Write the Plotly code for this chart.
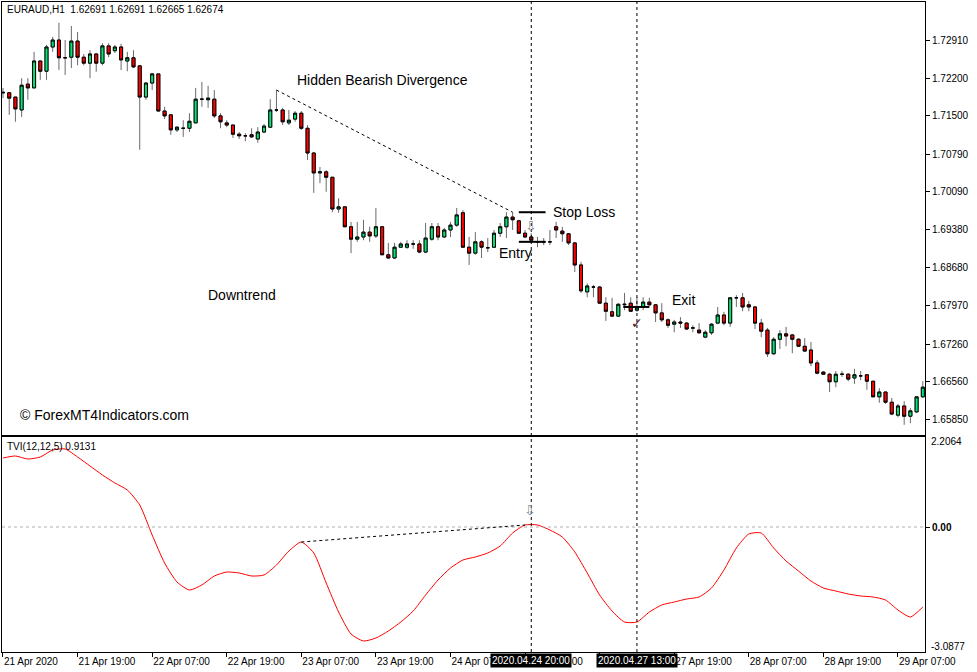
import plotly.graph_objects as go

# ---------------- data ----------------
opens = [1.7194,1.7193,1.7185,1.7161,1.7209,1.7202,1.7252,1.7233,1.7278,1.7291,
1.7258,1.7259,1.7289,1.7259,1.7248,1.7265,1.7248,1.7280,1.7271,1.7278,
1.7252,1.7258,1.7243,1.7185,1.7211,1.7228,1.7159,1.7152,1.7124,1.7127,
1.7127,1.7137,1.7181,1.7180,1.7181,1.7150,1.7137,1.7133,1.7116,1.7113,
1.7115,1.7107,1.7120,1.7129,1.7161,1.7161,1.7137,1.7144,1.7155,1.7127,
1.7081,1.7044,1.7046,1.7036,1.6977,1.6981,1.6944,1.6921,1.6925,1.6934,
1.6927,1.6944,1.6892,1.6886,1.6906,1.6906,1.6912,1.6912,1.6897,1.6921,
1.6944,1.6925,1.6938,1.6947,1.6970,1.6906,1.6895,1.6916,1.6905,1.6906,
1.6932,1.6944,1.6962,1.6955,1.6932,1.6925,1.6916,1.6916,1.6916,1.6944,
1.6936,1.6931,1.6914,1.6873,1.6823,1.6832,1.6832,1.6802,1.6786,1.6778,
1.6799,1.6802,1.6789,1.6795,1.6804,1.6799,1.6784,1.6771,1.6763,1.6767,
1.6765,1.6756,1.6752,1.6739,1.6747,1.6765,1.6780,1.6765,1.6812,1.6812,
1.6799,1.6795,1.6765,1.6752,1.6708,1.6735,1.6745,1.6743,1.6735,1.6722,
1.6715,1.6691,1.6674,1.6670,1.6656,1.6670,1.6670,1.6663,1.6667,1.6669,
1.6657,1.6628,1.6637,1.6618,1.6594,1.6611,1.6592,1.6600,1.6628]

highs = [1.7202,1.7194,1.7185,1.7220,1.7220,1.7269,1.7252,1.7282,1.7297,1.7323,
1.7291,1.7317,1.7306,1.7265,1.7272,1.7267,1.7285,1.7285,1.7282,1.7284,
1.7269,1.7272,1.7243,1.7213,1.7230,1.7228,1.7167,1.7152,1.7131,1.7142,
1.7155,1.7202,1.7213,1.7206,1.7198,1.7155,1.7142,1.7133,1.7120,1.7118,
1.7127,1.7129,1.7135,1.7181,1.7198,1.7165,1.7161,1.7159,1.7159,1.7133,
1.7083,1.7055,1.7049,1.7036,1.6997,1.6981,1.6953,1.6953,1.6957,1.6944,
1.6979,1.6944,1.6914,1.6914,1.6916,1.6919,1.6919,1.6919,1.6951,1.6951,
1.6951,1.6942,1.6953,1.6979,1.6975,1.6925,1.6934,1.6919,1.6923,1.6938,
1.6951,1.6971,1.6971,1.6957,1.6938,1.6932,1.6925,1.6923,1.6938,1.6953,
1.6944,1.6932,1.6916,1.6879,1.6839,1.6836,1.6834,1.6813,1.6812,1.6802,
1.6821,1.6813,1.6813,1.6813,1.6812,1.6800,1.6802,1.6774,1.6771,1.6776,
1.6767,1.6761,1.6765,1.6752,1.6765,1.6795,1.6786,1.6813,1.6817,1.6821,
1.6806,1.6797,1.6773,1.6756,1.6739,1.6752,1.6758,1.6745,1.6737,1.6737,
1.6730,1.6696,1.6676,1.6672,1.6676,1.6676,1.6672,1.6680,1.6676,1.6670,
1.6657,1.6644,1.6637,1.6626,1.6615,1.6620,1.6607,1.6628,1.6657]

lows = [1.7183,1.7152,1.7139,1.7148,1.7180,1.7202,1.7217,1.7217,1.7269,1.7235,
1.7226,1.7239,1.7244,1.7244,1.7220,1.7232,1.7244,1.7259,1.7267,1.7235,
1.7233,1.7239,1.7087,1.7180,1.7198,1.7159,1.7144,1.7115,1.7120,1.7111,
1.7120,1.7137,1.7167,1.7165,1.7146,1.7127,1.7129,1.7109,1.7107,1.7103,
1.7109,1.7100,1.7118,1.7129,1.7157,1.7133,1.7133,1.7139,1.7124,1.7068,
1.7007,1.7025,1.7009,1.6971,1.6970,1.6944,1.6895,1.6916,1.6919,1.6916,
1.6923,1.6892,1.6884,1.6884,1.6905,1.6903,1.6903,1.6895,1.6895,1.6918,
1.6919,1.6923,1.6925,1.6944,1.6905,1.6873,1.6892,1.6886,1.6897,1.6905,
1.6925,1.6923,1.6938,1.6932,1.6923,1.6918,1.6906,1.6910,1.6910,1.6923,
1.6916,1.6910,1.6860,1.6821,1.6813,1.6813,1.6802,1.6769,1.6776,1.6776,
1.6789,1.6786,1.6786,1.6789,1.6797,1.6767,1.6767,1.6756,1.6748,1.6756,
1.6752,1.6748,1.6745,1.6737,1.6743,1.6763,1.6761,1.6758,1.6795,1.6787,
1.6787,1.6754,1.6739,1.6702,1.6706,1.6717,1.6722,1.6709,1.6721,1.6713,
1.6685,1.6670,1.6669,1.6637,1.6646,1.6665,1.6657,1.6652,1.6659,1.6641,
1.6628,1.6617,1.6615,1.6594,1.6590,1.6576,1.6579,1.6598,1.6626]

closes = [1.7193,1.7183,1.7163,1.7207,1.7202,1.7252,1.7233,1.7278,1.7291,1.7258,
1.7258,1.7289,1.7259,1.7248,1.7265,1.7248,1.7280,1.7265,1.7278,1.7254,
1.7258,1.7241,1.7185,1.7211,1.7228,1.7159,1.7150,1.7124,1.7129,1.7127,
1.7140,1.7181,1.7181,1.7183,1.7150,1.7139,1.7133,1.7116,1.7113,1.7113,
1.7111,1.7120,1.7131,1.7161,1.7161,1.7139,1.7142,1.7155,1.7127,1.7081,
1.7044,1.7046,1.7036,1.6977,1.6981,1.6944,1.6921,1.6925,1.6934,1.6927,
1.6944,1.6892,1.6886,1.6906,1.6912,1.6912,1.6912,1.6897,1.6923,1.6944,
1.6925,1.6938,1.6947,1.6966,1.6906,1.6895,1.6916,1.6906,1.6905,1.6932,
1.6944,1.6962,1.6957,1.6932,1.6925,1.6919,1.6916,1.6916,1.6916,1.6938,
1.6931,1.6914,1.6873,1.6825,1.6834,1.6832,1.6802,1.6787,1.6778,1.6800,
1.6800,1.6787,1.6795,1.6804,1.6799,1.6784,1.6771,1.6761,1.6767,1.6765,
1.6754,1.6756,1.6747,1.6748,1.6763,1.6780,1.6765,1.6812,1.6812,1.6795,
1.6795,1.6765,1.6750,1.6708,1.6735,1.6745,1.6741,1.6735,1.6722,1.6713,
1.6691,1.6672,1.6670,1.6656,1.6670,1.6670,1.6661,1.6669,1.6667,1.6657,
1.6628,1.6637,1.6618,1.6596,1.6611,1.6592,1.6602,1.6628,1.6646]

bars = list(range(len(opens)))

# TVI(12,12,5) read every 2nd bar
tvi_bars = list(range(0, 149, 2))
tvi = [1.787,1.839,1.761,1.813,1.994,2.020,1.813,1.580,1.347,1.140,
0.958,0.570,-0.207,-0.932,-1.425,-1.632,-1.502,-1.269,-1.166,-1.191,
-1.269,-1.243,-0.984,-0.622,-0.389,-0.673,-1.450,-2.202,-2.771,-2.953,
-2.875,-2.694,-2.461,-2.176,-1.761,-1.373,-1.062,-0.855,-0.777,-0.673,
-0.492,-0.155,0.052,0.052,-0.078,-0.259,-0.648,-1.191,-1.761,-2.176,
-2.461,-2.461,-2.202,-2.020,-1.943,-1.865,-1.813,-1.580,-1.114,-0.544,
-0.181,-0.155,-0.544,-0.881,-1.140,-1.399,-1.580,-1.658,-1.735,-1.787,
-1.813,-1.891,-2.150,-2.331,-2.072]

price_ticks = [1.72910,1.72200,1.71500,1.70790,1.70090,1.69380,1.68680,
               1.67970,1.67260,1.66560,1.65850]
time_tick_bars = [0,12,24,36,48,60,72,84,96,108,120,132,144]
time_tick_labels = ["21 Apr 2020","21 Apr 19:00","22 Apr 07:00","22 Apr 19:00",
                    "23 Apr 07:00","23 Apr 19:00","24 Apr 07:00","24 Apr 19:00",
                    "27 Apr 07:00","27 Apr 19:00","28 Apr 07:00","28 Apr 19:00",
                    "29 Apr 07:00"]

entry_bar, exit_bar = 85, 102
stop_loss_price = 1.6971
entry_price = 1.6916
exit_price = 1.6795
tvi_max_label, tvi_min_label = 2.2064, -3.0877

# ---------------- figure ----------------
FONT = "Liberation Sans, Arial, sans-serif"
SYM_FONT = "DejaVu Sans, sans-serif"
GREEN = "#00E676"
RED = "#FF0000"

fig = go.Figure()

# wicks (grey)
fig.add_trace(go.Candlestick(
    x=bars, open=opens, high=highs, low=lows, close=closes,
    increasing=dict(line=dict(color="#6a6a6a", width=1), fillcolor="#6a6a6a"),
    decreasing=dict(line=dict(color="#6a6a6a", width=1), fillcolor="#6a6a6a"),
    whiskerwidth=0, xaxis="x", yaxis="y", showlegend=False, hoverinfo="skip"))

# bodies (black outline)
body_hi = [max(o, c) for o, c in zip(opens, closes)]
body_lo = [min(o, c) for o, c in zip(opens, closes)]
fig.add_trace(go.Candlestick(
    x=bars, open=opens, high=body_hi, low=body_lo, close=closes,
    increasing=dict(line=dict(color="black", width=1), fillcolor=GREEN),
    decreasing=dict(line=dict(color="black", width=1), fillcolor=RED),
    whiskerwidth=0, xaxis="x", yaxis="y", showlegend=False, hoverinfo="skip"))

# TVI line
fig.add_trace(go.Scatter(
    x=tvi_bars, y=tvi, mode="lines", line=dict(color="#FF0000", width=1, shape="spline", smoothing=0.6),
    xaxis="x2", yaxis="y2", showlegend=False, hoverinfo="skip"))

xr = [-0.16, 148.35]

fig.update_layout(
    width=977, height=672,
    margin=dict(l=2, r=52, t=2, b=20),
    paper_bgcolor="white", plot_bgcolor="white",
    font=dict(family=FONT, size=10, color="black"),
    showlegend=False,
    xaxis=dict(domain=[0, 1], anchor="y", range=xr, showticklabels=False, ticks="",
               showgrid=False, zeroline=False, showline=True, mirror=True,
               linecolor="black", linewidth=1, rangeslider=dict(visible=False)),
    yaxis=dict(domain=[(652 - 435) / 650, 1], anchor="x", side="right",
               range=[1.65571, 1.73616], tickvals=price_ticks,
               ticktext=[f"{v:.5f}" for v in price_ticks],
               ticks="outside", ticklen=4, tickcolor="black",
               showgrid=False, zeroline=False, showline=True, mirror=True,
               linecolor="black", linewidth=1),
    xaxis2=dict(domain=[0, 1], anchor="y2", range=xr, matches="x",
                tickvals=time_tick_bars, ticktext=time_tick_labels,
                ticks="outside", ticklen=4, tickcolor="black",
                ticklabelposition="outside right",
                showgrid=False, zeroline=False, showline=True, mirror=True,
                linecolor="black", linewidth=1, rangeslider=dict(visible=False)),
    yaxis2=dict(domain=[0, (652 - 437) / 650], anchor="x2", side="right",
                range=[-3.2375, 2.331], tickvals=[0], ticktext=["<b>0.00</b>"],
                ticks="outside", ticklen=4, tickcolor="black",
                showgrid=False, zeroline=False, showline=True, mirror=True,
                linecolor="black", linewidth=1),
)

shapes = []
# vertical dotted lines (entry / exit) across both panes
for b in (entry_bar, exit_bar):
    shapes.append(dict(type="line", xref="x", yref="paper", x0=b, x1=b, y0=0, y1=1,
                       line=dict(color="black", width=1, dash="dot")))
# zero level in indicator pane
shapes.append(dict(type="line", xref="paper", yref="y2", x0=0, x1=1, y0=0, y1=0,
                   line=dict(color="#b0b0b0", width=1, dash="dot")))
# divergence lines
shapes.append(dict(type="line", xref="x", yref="y", x0=44, y0=highs[44], x1=82, y1=highs[82],
                   line=dict(color="black", width=1, dash="dot")))
shapes.append(dict(type="line", xref="x2", yref="y2", x0=tvi_bars[24], y0=tvi[24],
                   x1=tvi_bars[42], y1=tvi[42],
                   line=dict(color="black", width=1, dash="dot")))
# stop loss, entry, exit horizontal lines
shapes.append(dict(type="line", xref="x", yref="y", x0=83, x1=87.3, y0=stop_loss_price, y1=stop_loss_price,
                   line=dict(color="black", width=2)))
shapes.append(dict(type="line", xref="x", yref="y", x0=83, x1=87.3, y0=entry_price, y1=entry_price,
                   line=dict(color="black", width=2)))
shapes.append(dict(type="line", xref="x", yref="y", x0=99.8, x1=104, y0=exit_price, y1=exit_price,
                   line=dict(color="black", width=2)))
fig.update_layout(shapes=shapes)

ann = []
def txt(x, y, s, size=14, xref="x", yref="y", xanchor="left", yanchor="middle", color="black",
        family=FONT, **kw):
    ann.append(dict(x=x, y=y, xref=xref, yref=yref, text=s, showarrow=False,
                    xanchor=xanchor, yanchor=yanchor,
                    font=dict(family=family, size=size, color=color), **kw))

txt(0.003, 0.9877, "EURAUD,H1  1.62691 1.62691 1.62665 1.62674", size=10, xref="paper", yref="paper")
txt(61, 1.7217, "Hidden Bearish Divergence", xanchor="center")
txt(88.2, stop_loss_price, "Stop Loss")
txt(79.5, 1.6895, "Entry")
txt(32.7, 1.6817, "Downtrend")
txt(107.3, 1.6808, "Exit")
txt(0.0173, 0.3646, "© ForexMT4Indicators.com", xref="paper", yref="paper")
txt(0.003, 0.3169, "TVI(12,12,5) 0.9131", size=10, xref="paper", yref="paper")
# trade markers
txt(entry_bar, 1.6946, "⇩", size=14, xanchor="center", color="#8c8c8c", family=SYM_FONT)
txt(entry_bar - 0.2, 0.45, "⇩", size=14, xanchor="center", color="#8c8c8c", family=SYM_FONT,
    xref="x2", yref="y2")
txt(exit_bar, 1.6765, "✓", size=14, xanchor="center", color="#5a1020", family=SYM_FONT)
# indicator max/min labels on right scale
txt(1, tvi_max_label, f"{tvi_max_label:.4f}", size=10, xref="paper", yref="y2", xshift=4)
txt(1, tvi_min_label, f"{tvi_min_label:.4f}", size=10, xref="paper", yref="y2", xshift=4)
# highlighted date boxes on the time axis
for b, s in ((entry_bar, "2020.04.24 20:00"), (exit_bar, "2020.04.27 13:00")):
    ann.append(dict(x=b, y=-0.0138, xref="x2", yref="paper", text=s, showarrow=False,
                    xanchor="center", yanchor="middle", bgcolor="black", borderpad=1,
                    font=dict(family=FONT, size=10, color="white")))
fig.update_layout(annotations=ann)

fig.write_html("out.html", config={"displayModeBar": False},
               post_script="document.body.style.margin='0';document.body.style.overflow='hidden';")
